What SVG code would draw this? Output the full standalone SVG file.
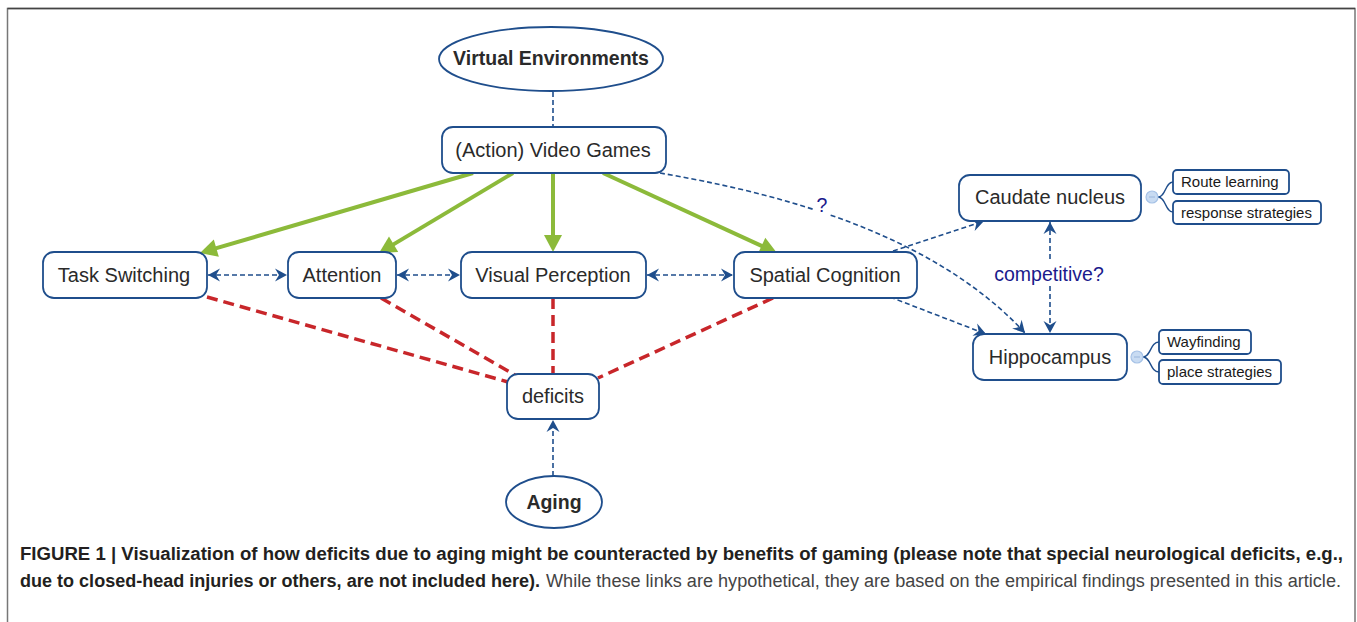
<svg xmlns="http://www.w3.org/2000/svg" width="1357" height="622" viewBox="0 0 1357 622">
<style>
.node{fill:#fff;stroke:#1f4e8c;stroke-width:1.8}
.t{font-family:"Liberation Sans",Arial,sans-serif;font-size:20px;fill:#2a2a2a;text-anchor:middle}
.tb{font-family:"Liberation Sans",Arial,sans-serif;font-size:19.5px;font-weight:bold;fill:#2a2a2a;text-anchor:middle}
.ts{font-family:"Liberation Sans",Arial,sans-serif;font-size:15px;fill:#1a1a1a}
.lab{font-family:"Liberation Sans",Arial,sans-serif;font-size:19.5px;fill:#1a1a8c;text-anchor:middle}
.green{stroke:#8cba3a;stroke-width:4;fill:none;marker-end:url(#ga)}
.blue{stroke:#1f4e8c;stroke-width:1.6;fill:none;stroke-dasharray:5 3}
.red{stroke:#c8262a;stroke-width:3.5;fill:none;stroke-dasharray:11 6}
.brace{stroke:#1f4e8c;stroke-width:1.4;fill:none}
.circ{fill:#c8dbf2;stroke:#a6c2e6;stroke-width:1.2}
.cap{font-family:"Liberation Sans",Arial,sans-serif;font-size:19px}
</style>
<defs>
<marker id="ga" markerUnits="userSpaceOnUse" markerWidth="40" markerHeight="40" viewBox="-20 -20 40 40" refX="0" refY="0" orient="auto">
<path d="M-7,-9 L10,0 L-7,9 z" fill="#8cba3a"/>
</marker>
<marker id="ba" markerUnits="userSpaceOnUse" markerWidth="30" markerHeight="30" viewBox="-15 -15 30 30" refX="0" refY="0" orient="auto-start-reverse">
<path d="M0,0 L-12,-6.5 L-8,0 L-12,6.5 z" fill="#1f4e8c"/>
</marker>
</defs>
<rect width="1357" height="622" fill="#fff"/>
<path d="M7.5,622 L7.5,8.5 L1355,8.5 L1355,622" fill="none" stroke="#777" stroke-width="1.5"/>
<path d="M7.5,8.5 L1355,8.5" stroke="#444" stroke-width="1.5"/>

<g id="connectors">
<line class="blue" x1="553" y1="92" x2="553" y2="127"/>
<path class="green" d="M473,173 L209.6,250.2"/>
<path class="green" d="M513,173 L387.6,247.9"/>
<path class="green" d="M553,173 L553,242"/>
<path class="green" d="M603,173 L767.9,248.8"/>
<path class="blue" d="M208,275 L287,275" marker-start="url(#ba)" marker-end="url(#ba)"/>
<path class="blue" d="M397,275 L460,275" marker-start="url(#ba)" marker-end="url(#ba)"/>
<path class="blue" d="M647,275 L733,275" marker-start="url(#ba)" marker-end="url(#ba)"/>
<path class="red" d="M207,297 L508,382"/>
<path class="red" d="M381,298 L515,375"/>
<path class="red" d="M553,298 L553,374"/>
<path class="red" d="M773,298 L598,378"/>
<path class="blue" d="M660,173 C770,192 930,230 1025,333" marker-end="url(#ba)"/>
<path class="blue" d="M893,251 L984,221" marker-end="url(#ba)"/>
<path class="blue" d="M890,297 L986,334" marker-end="url(#ba)"/>
<path class="blue" d="M1050,222 L1050,333" marker-start="url(#ba)" marker-end="url(#ba)"/>
<path class="blue" d="M553,476 L553,420" marker-end="url(#ba)"/>
<rect x="814" y="194" width="16" height="22" fill="#fff"/>
<text class="lab" x="822" y="212">?</text>
<rect x="990" y="262" width="120" height="24" fill="#fff"/>
<text class="lab" x="1049" y="281">competitive?</text>
</g>

<g id="virtual-environments">
<ellipse class="node" cx="551" cy="59" rx="112" ry="32"/>
<text class="tb" x="551" y="65">Virtual Environments</text>
</g>
<g id="video-games">
<rect class="node" x="442" y="127" width="224" height="46" rx="11"/>
<text class="t" x="553" y="157">(Action) Video Games</text>
</g>
<g id="task-switching">
<rect class="node" x="43" y="252" width="164" height="46" rx="11"/>
<text class="t" x="124" y="282">Task Switching</text>
</g>
<g id="attention">
<rect class="node" x="288" y="252" width="108" height="46" rx="11"/>
<text class="t" x="342" y="282">Attention</text>
</g>
<g id="visual-perception">
<rect class="node" x="461" y="252" width="185" height="46" rx="11"/>
<text class="t" x="553" y="282">Visual Perception</text>
</g>
<g id="spatial-cognition">
<rect class="node" x="734" y="252" width="183" height="46" rx="11"/>
<text class="t" x="825" y="282">Spatial Cognition</text>
</g>
<g id="deficits">
<rect class="node" x="507" y="374" width="92" height="45" rx="11"/>
<text class="t" x="553" y="403">deficits</text>
</g>
<g id="aging">
<ellipse class="node" cx="554" cy="502" rx="48" ry="26"/>
<text class="tb" x="554" y="509">Aging</text>
</g>
<g id="caudate-nucleus">
<rect class="node" x="959" y="175" width="182" height="46" rx="11"/>
<text class="t" x="1050" y="204">Caudate nucleus</text>
<path class="brace" d="M1158,197 C1166,197 1165,182 1173,182"/>
<path class="brace" d="M1158,197 C1166,197 1165,212 1173,212"/>
<circle class="circ" cx="1152" cy="197" r="6"/>
<line x1="1149" y1="197" x2="1155" y2="197" stroke="#9ab6dc" stroke-width="1"/>
</g>
<g id="route-learning">
<rect class="node" x="1173" y="170" width="116" height="24" rx="4"/>
<text class="ts" x="1181" y="187">Route learning</text>
</g>
<g id="response-strategies">
<rect class="node" x="1173" y="201" width="148" height="23" rx="4"/>
<text class="ts" x="1181" y="218">response strategies</text>
</g>
<g id="hippocampus">
<rect class="node" x="973" y="334" width="154" height="46" rx="11"/>
<text class="t" x="1050" y="364">Hippocampus</text>
<path class="brace" d="M1143,357 C1151,357 1150,342 1159,342"/>
<path class="brace" d="M1143,357 C1151,357 1150,372 1159,372"/>
<circle class="circ" cx="1137" cy="357" r="6"/>
<line x1="1134" y1="357" x2="1140" y2="357" stroke="#9ab6dc" stroke-width="1"/>
</g>
<g id="wayfinding">
<rect class="node" x="1159" y="330" width="92" height="24" rx="4"/>
<text class="ts" x="1167" y="347">Wayfinding</text>
</g>
<g id="place-strategies">
<rect class="node" x="1159" y="360" width="122" height="24" rx="4"/>
<text class="ts" x="1167" y="377">place strategies</text>
</g>

<g id="caption" transform="scale(0.85,1)">
<text class="cap" x="23.53" y="560" font-weight="bold" fill="#231f20" textLength="1556.5" lengthAdjust="spacingAndGlyphs">FIGURE 1 | Visualization of how deficits due to aging might be counteracted by benefits of gaming (please note that special neurological deficits, e.g.,</text>
<text class="cap" x="23.53" y="587" font-weight="bold" fill="#231f20" textLength="611.8" lengthAdjust="spacingAndGlyphs">due to closed-head injuries or others, are not included here).</text>
<text class="cap" x="642.35" y="587" fill="#444" textLength="935.3" lengthAdjust="spacingAndGlyphs">While these links are hypothetical, they are based on the empirical findings presented in this article.</text>
</g>
</svg>
